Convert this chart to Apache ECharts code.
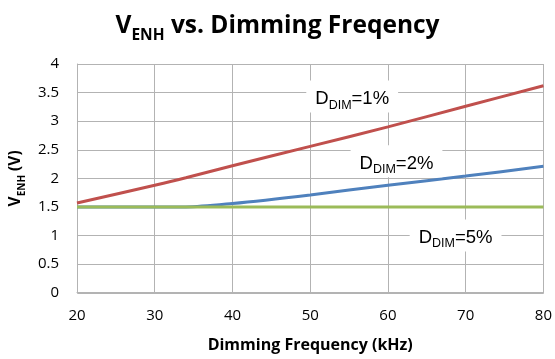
<!DOCTYPE html>
<html>
<head>
<meta charset="utf-8">
<style>
  html, body { margin: 0; padding: 0; background: #fff; }
  #chart { width: 555px; height: 359px; }
</style>
<script src="https://cdn.jsdelivr.net/npm/echarts@6/dist/echarts.min.js"></script>
</head>
<body>
<div id="chart"></div>
<script>
// Dimming frequency (kHz) sample points
const freqKHz = [20, 30, 34, 40, 50, 60, 70, 80];
// V_ENH (V) for each dimming duty cycle
const vEnhDim1 = [1.57, 1.88, 2.01, 2.22, 2.56, 2.90, 3.26, 3.62];
const vEnhDim2 = [1.50, 1.50, 1.50, 1.56, 1.71, 1.88, 2.04, 2.21];
const vEnhDim5 = [1.50, 1.50, 1.50, 1.50, 1.50, 1.50, 1.50, 1.50];
// Axis ticks
const xTicks = [20, 30, 40, 50, 60, 70, 80];
const yTicks = [0, 0.5, 1, 1.5, 2, 2.5, 3, 3.5, 4];
// Curve annotations: duty cycle text and anchor (kHz, V)
const dimLabels = ['1%', '2%', '5%'];
const dimLabelAnchors = [[55.4, 3.43], [61.1, 2.30], [68.7, 1.0]];

const pairs = (ys) => freqKHz.map((f, i) => [f, ys[i]]);

const labelFont = 'Liberation Sans, Arial, sans-serif';
const uiFont = '"Open Sans", Lato, sans-serif';

function dimMark(idx) {
  return {
    coord: dimLabelAnchors[idx],
    symbol: 'rect',
    symbolSize: 0,
    label: {
      show: true,
      position: 'inside',
      formatter: '{d|D}{s|DIM}{d|=' + dimLabels[idx] + '}',
      backgroundColor: '#ffffff',
      padding: [6, 9, 4, 9],
      rich: {
        d: { fontFamily: labelFont, fontSize: 18.5, color: '#000', lineHeight: 22, verticalAlign: 'bottom' },
        s: { fontFamily: labelFont, fontSize: 12.5, color: '#000', lineHeight: 22, verticalAlign: 'bottom', padding: [0, 0, -3, 0] }
      }
    }
  };
}

const chart = echarts.init(document.getElementById('chart'), null, { renderer: 'canvas' });

chart.setOption({
  animation: false,
  backgroundColor: '#ffffff',
  title: {
    text: '{v|V}{s|ENH}{v| vs. Dimming Freqency}',
    left: 'center',
    top: 2,
    textStyle: {
      rich: {
        v: { fontFamily: uiFont, fontWeight: 'bold', fontSize: 24.5, color: '#000', lineHeight: 32, verticalAlign: 'bottom' },
        s: { fontFamily: uiFont, fontWeight: 'bold', fontSize: 15.5, color: '#000', lineHeight: 32, verticalAlign: 'bottom', padding: [0, 0, -5, 0] }
      }
    }
  },
  grid: { left: 74.5, right: 11.5, top: 64, bottom: 66.3, containLabel: false, show: false },
  xAxis: {
    type: 'value',
    min: xTicks[0],
    max: xTicks[xTicks.length - 1],
    interval: 10,
    name: 'Dimming Frequency (kHz)',
    nameLocation: 'middle',
    nameGap: 45,
    nameTextStyle: { fontFamily: uiFont, fontWeight: 'bold', fontSize: 16, color: '#000' },
    axisLine: { show: true, lineStyle: { color: '#b3b3b3', width: 1 } },
    axisTick: { show: false },
    axisLabel: { margin: 16, fontFamily: uiFont, fontSize: 15, color: '#000' },
    splitLine: { show: true, lineStyle: { color: '#b3b3b3', width: 1 } }
  },
  yAxis: {
    type: 'value',
    min: yTicks[0],
    max: yTicks[yTicks.length - 1],
    interval: 0.5,
    name: '{v|V}{s|ENH}{v| (V)}',
    nameLocation: 'middle',
    nameRotate: 90,
    nameGap: 50,
    nameTextStyle: {
      rich: {
        v: { fontFamily: uiFont, fontWeight: 'bold', fontSize: 15.5, color: '#000', lineHeight: 20, verticalAlign: 'bottom' },
        s: { fontFamily: uiFont, fontWeight: 'bold', fontSize: 10, color: '#000', lineHeight: 20, verticalAlign: 'bottom', padding: [0, 0, -3, 0] }
      }
    },
    axisLine: { show: true, lineStyle: { color: '#b3b3b3', width: 1 } },
    axisTick: { show: false },
    axisLabel: { margin: 18, fontFamily: uiFont, fontSize: 15, color: '#000' },
    splitLine: { show: true, lineStyle: { color: '#b3b3b3', width: 1 } }
  },
  graphic: [],
  series: [
    {
      name: 'DDIM=1%',
      type: 'line',
      data: pairs(vEnhDim1),
      smooth: 0.3,
      showSymbol: false,
      lineStyle: { color: '#c0504d', width: 3 },
      z: 3,
      markPoint: { silent: true, data: [dimMark(0)] }
    },
    {
      name: 'DDIM=2%',
      type: 'line',
      data: pairs(vEnhDim2),
      smooth: 0.3,
      showSymbol: false,
      lineStyle: { color: '#4f81bd', width: 3 },
      z: 4,
      markPoint: { silent: true, data: [dimMark(1)] }
    },
    {
      name: 'DDIM=5%',
      type: 'line',
      data: pairs(vEnhDim5),
      showSymbol: false,
      lineStyle: { color: '#9bbb59', width: 3 },
      z: 5,
      markPoint: { silent: true, data: [dimMark(2)] }
    }
  ]
});

// Right and top frame edges of the plot area
const gridRect = chart.getModel().getComponent('grid').coordinateSystem.getRect();
chart.setOption({
  graphic: [{
    type: 'rect',
    silent: true,
    z: 0,
    shape: { x: Math.round(gridRect.x) + 0.5, y: Math.round(gridRect.y) + 0.5, width: Math.round(gridRect.width), height: Math.round(gridRect.height) },
    style: { fill: 'none', stroke: '#b3b3b3', lineWidth: 1 }
  }]
});
</script>
</body>
</html>
